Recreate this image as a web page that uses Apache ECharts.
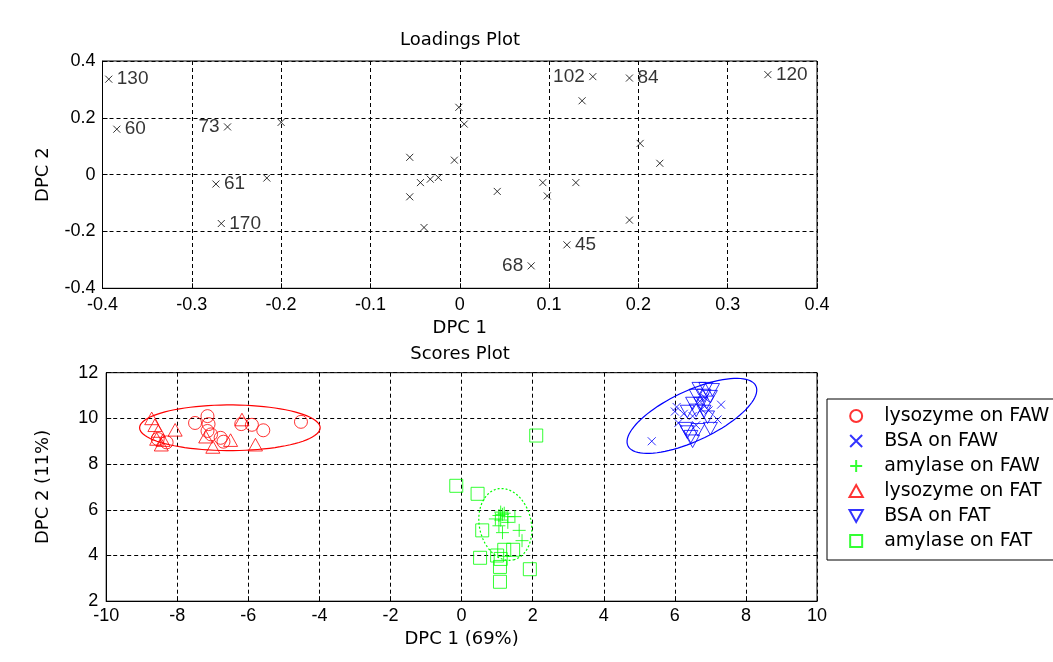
<!DOCTYPE html>
<html>
<head>
<meta charset="utf-8">
<script src="https://cdn.jsdelivr.net/npm/echarts@6/dist/echarts.min.js"></script>
<style>
  html, body { margin: 0; padding: 0; background: #fff; }
  #chart { width: 1053px; height: 662px; }
</style>
</head>
<body>
<div id="chart"></div>
<script>
// loadings plot: x, y and the number written beside a few points
const loadX = [-0.393, -0.384, -0.260, -0.200, -0.273, -0.216, -0.267, -0.001, 0.005, -0.056,
  -0.006, -0.044, -0.033, -0.024, -0.056, -0.040, 0.042, 0.093, 0.098, 0.130,
  0.080, 0.120, 0.137, 0.149, 0.190, 0.345, 0.202, 0.224, 0.190];
const loadY = [0.336, 0.160, 0.168, 0.184, -0.033, -0.012, -0.172, 0.237, 0.178, 0.061,
  0.051, -0.028, -0.016, -0.010, -0.078, -0.186, -0.059, -0.028, -0.075, -0.028,
  -0.321, -0.247, 0.260, 0.345, 0.340, 0.352, 0.110, 0.040, -0.160];
const loadLabels = ['130', '60', '73', '', '61', '', '170', '', '', '',
  '', '', '', '', '', '', '', '', '', '',
  '68', '45', '', '102', '84', '120', '', '', ''];
const leftLabels = ['73', '68', '102'];

const loadTicksX = [-0.4, 0.4, 0.1];
const loadTicksY = [-0.4, 0.4, 0.2];
const scoreTicksX = [-10, 10, 2];
const scoreTicksY = [2, 12, 2];

// scores plot groups
const lysoFAW = [[-8.55, 9.1], [-8.3, 8.95], [-7.5, 9.8], [-7.15, 10.1], [-7.12, 9.75], [-7.15, 9.45],
  [-7.05, 9.3], [-6.78, 9.15], [-6.7, 8.98], [-6.2, 9.75], [-5.9, 9.72], [-5.58, 9.48], [-4.52, 9.85]];
const bsaFAW = [[5.35, 9.0], [6.05, 10.5], [6.0, 10.3], [6.1, 9.8], [7.3, 10.6], [7.2, 9.95], [6.6, 9.7],
  [6.75, 10.4], [6.95, 10.35], [6.25, 10.2], [6.7, 10.75], [6.85, 10.9], [6.5, 10.1]];
const amylFAW = [[1.1, 5.9], [1.15, 5.8], [1.05, 5.75], [1.2, 5.85], [0.95, 5.6], [1.3, 5.7], [1.5, 5.7],
  [1.05, 5.3], [1.15, 5.0], [1.3, 5.45], [1.62, 5.1], [1.7, 4.65], [1.1, 5.55]];
const lysoFAT = [[-8.72, 10.0], [-8.63, 9.7], [-8.53, 9.45], [-8.06, 9.5], [-8.58, 9.1], [-8.4, 9.05],
  [-8.45, 8.85], [-7.2, 9.2], [-7.0, 8.75], [-6.5, 9.05], [-6.18, 9.95], [-5.8, 8.85]];
const bsaFAT = [[6.68, 11.3], [6.87, 11.3], [7.06, 11.25], [6.6, 11.0], [6.82, 11.0], [7.0, 10.95],
  [6.5, 10.65], [6.73, 10.65], [6.9, 10.7], [6.35, 10.3], [6.6, 10.35], [6.82, 10.3], [6.3, 9.55],
  [6.35, 9.4], [6.45, 9.2], [6.5, 9.0], [6.65, 9.5], [7.0, 9.55], [6.92, 10.05]];
const amylFAT = [[2.1, 9.25], [-0.15, 7.05], [0.45, 6.7], [0.58, 5.1], [0.52, 3.9], [1.0, 4.0], [1.2, 4.25],
  [1.45, 4.25], [1.08, 3.5], [1.1, 3.85], [1.08, 2.85], [1.92, 3.4]];

// ellipses: centre x, centre y, first semi-axis (x, y), second semi-axis (x, y)
const ellipseLyso = [-6.52, 9.59, 2.54, 0, 0, 1.0];
const ellipseBsa = [6.48, 10.11, 1.80, 1.31, 0.30, -0.99];
const ellipseAmyl = [1.23, 5.36, 0.23, -1.55, 0.71, 0.26];

const RED = '#ff0000', BLUE = '#0000ff', GREEN = '#00ff00';
const TXT = 'DejaVu Sans';
const NUM = 'Liberation Sans';

const crossPath = 'path://M0,0L10,10M10,0L0,10';
const plusPath = 'path://M5,0L5,10M0,5L10,5';
const upTri = 'path://M5,0L10,9L0,9Z';
const downTri = 'path://M0,0L10,0L5,9Z';
const squarePath = 'path://M0,0L10,0L10,10L0,10Z';

const chart = echarts.init(document.getElementById('chart'), null, { renderer: 'canvas' });

function valueAxis(grid, ticks, extra) {
  return Object.assign({
    type: 'value', gridIndex: grid,
    min: ticks[0], max: ticks[1], interval: ticks[2],
    axisLine: { show: true, onZero: false, lineStyle: { color: '#000', width: 1 } },
    axisTick: { show: true, inside: true, length: 5, lineStyle: { color: '#000' } },
    splitLine: { show: true, lineStyle: { color: '#000', type: [4, 3], width: 1 } },
    nameTextStyle: { color: '#000', fontFamily: TXT, fontSize: 18 }
  }, extra);
}

function tickLabels(margin) {
  return { color: '#000', fontFamily: NUM, fontSize: 18, margin: margin };
}

function scoreSeries(name, data, symbol, size, color) {
  return {
    name: name, type: 'scatter', xAxisIndex: 1, yAxisIndex: 1,
    data: data, symbol: symbol, symbolSize: size, symbolKeepAspect: true,
    itemStyle: { color: 'none', borderColor: color, borderWidth: 1 },
    emphasis: { disabled: true }, z: 3
  };
}

function ellipseSeries(name, params, color, dash) {
  return {
    name: name, type: 'custom', xAxisIndex: 1, yAxisIndex: 1,
    data: [params], encode: { x: 0, y: 1 }, silent: true, z: 2,
    renderItem: function (p, api) {
      const cx = api.value(0), cy = api.value(1);
      const ax = api.value(2), ay = api.value(3), bx = api.value(4), by = api.value(5);
      const pts = [];
      for (let i = 0; i <= 90; i++) {
        const t = i / 90 * Math.PI * 2;
        pts.push(api.coord([cx + ax * Math.cos(t) + bx * Math.sin(t), cy + ay * Math.cos(t) + by * Math.sin(t)]));
      }
      return {
        type: 'polyline', shape: { points: pts },
        style: { fill: 'none', stroke: color, lineWidth: 1.2, lineDash: dash }
      };
    }
  };
}

const loadData = loadX.map((x, i) => {
  const item = { value: [x, loadY[i]], name: loadLabels[i] };
  if (leftLabels.indexOf(loadLabels[i]) >= 0) item.label = { position: 'left' };
  return item;
});

const option = {
  backgroundColor: '#fff',
  animation: false,
  graphic: [
    { type: 'text', x: 460, y: 40, style: { text: 'Loadings Plot', font: '18px "DejaVu Sans"', fill: '#000', align: 'center', verticalAlign: 'middle' } },
    { type: 'text', x: 460, y: 354, style: { text: 'Scores Plot', font: '18px "DejaVu Sans"', fill: '#000', align: 'center', verticalAlign: 'middle' } }
  ],
  grid: [
    { left: 102.5, top: 61, width: 714.5, height: 227.3, show: true, borderColor: '#000', borderWidth: 1, backgroundColor: '#fff' },
    { left: 106.2, top: 372.7, width: 710.8, height: 228.5, show: true, borderColor: '#000', borderWidth: 1, backgroundColor: '#fff' }
  ],
  xAxis: [
    valueAxis(0, loadTicksX, { name: 'DPC 1', nameLocation: 'middle', nameGap: 31, axisLabel: tickLabels(8) }),
    valueAxis(1, scoreTicksX, { name: 'DPC 1 (69%)', nameLocation: 'middle', nameGap: 29, axisLabel: tickLabels(6) })
  ],
  yAxis: [
    valueAxis(0, loadTicksY, { name: 'DPC 2', nameLocation: 'middle', nameGap: 50, axisLabel: tickLabels(7) }),
    valueAxis(1, scoreTicksY, { name: 'DPC 2 (11%)', nameLocation: 'middle', nameGap: 54, axisLabel: tickLabels(8) })
  ],
  legend: {
    orient: 'vertical', left: 827, top: 399,
    padding: [7, 24, 9, 20], itemGap: 5,
    itemWidth: 44, itemHeight: 12, symbolKeepAspect: true,
    borderColor: '#000', borderWidth: 1, backgroundColor: '#fff',
    textStyle: { color: '#000', fontFamily: TXT, fontSize: 19, lineHeight: 20, padding: [0, 0, 0, 1] },
    data: ['lysozyme on FAW', 'BSA on FAW', 'amylase on FAW', 'lysozyme on FAT', 'BSA on FAT', 'amylase on FAT']
  },
  series: [
    {
      name: 'loadings', type: 'scatter', xAxisIndex: 0, yAxisIndex: 0,
      data: loadData, symbol: crossPath, symbolSize: 7,
      itemStyle: { color: 'none', borderColor: '#000', borderWidth: 1 },
      label: { show: true, position: 'right', distance: 2, formatter: '{b}', color: '#000', fontFamily: NUM, fontSize: 19 },
      emphasis: { disabled: true }
    },
    ellipseSeries('e1', ellipseLyso, RED, null),
    ellipseSeries('e2', ellipseBsa, BLUE, null),
    ellipseSeries('e3', ellipseAmyl, GREEN, [2, 2]),
    scoreSeries('lysozyme on FAW', lysoFAW, 'circle', 13, RED),
    scoreSeries('BSA on FAW', bsaFAW, crossPath, 8, BLUE),
    scoreSeries('amylase on FAW', amylFAW, plusPath, 13, GREEN),
    scoreSeries('lysozyme on FAT', lysoFAT, upTri, 14, RED),
    scoreSeries('BSA on FAT', bsaFAT, downTri, 14, BLUE),
    scoreSeries('amylase on FAT', amylFAT, squarePath, 13, GREEN)
  ]
};

chart.setOption(option);
</script>
</body>
</html>
